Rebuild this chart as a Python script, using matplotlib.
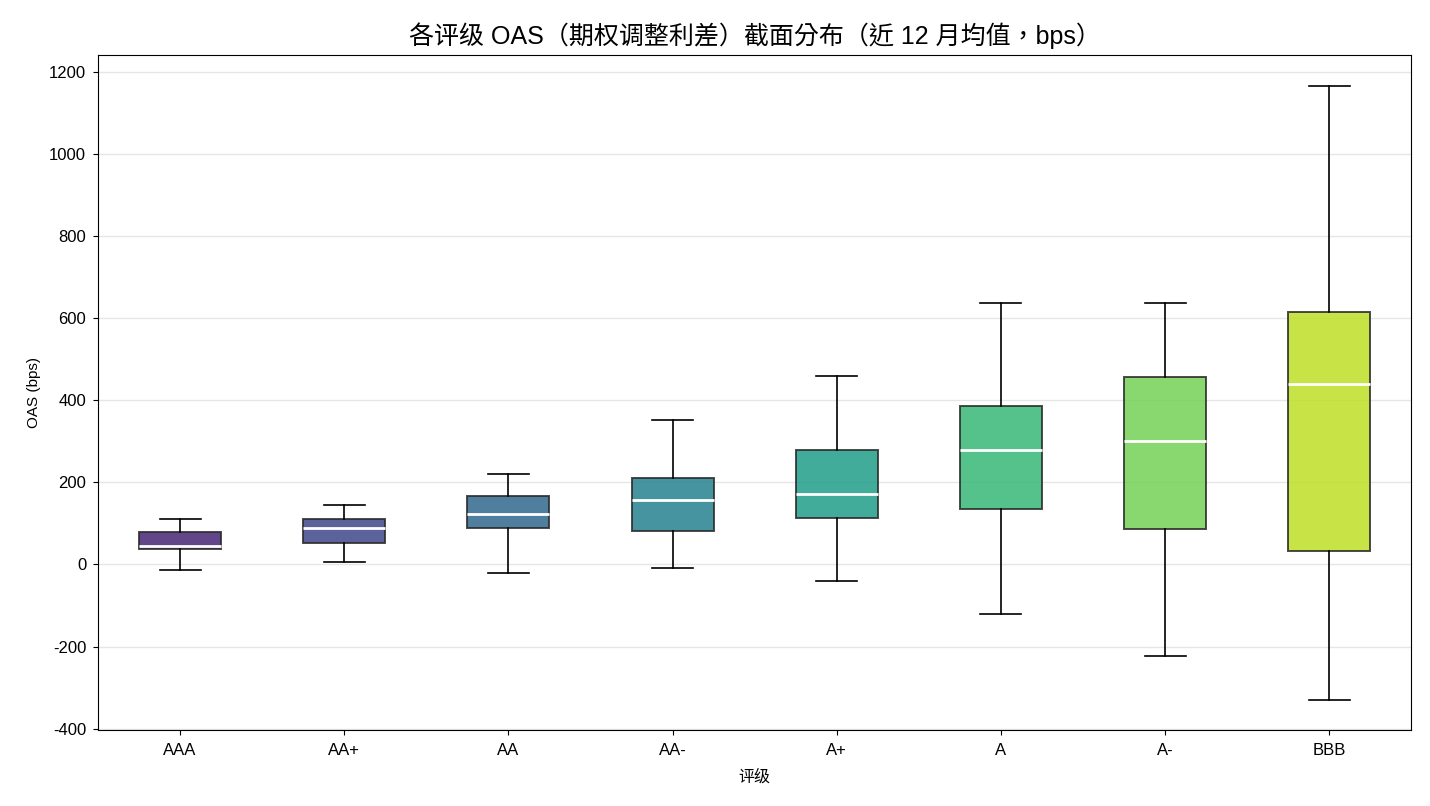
import matplotlib
matplotlib.use("Agg")
import matplotlib.pyplot as plt
import numpy as np

plt.rcParams['font.family'] = ['Liberation Sans', 'Noto Sans CJK TC', 'DejaVu Sans']
plt.rcParams['axes.unicode_minus'] = False

ratings = ["AAA", "AA+", "AA", "AA-", "A+", "A", "A-", "BBB"]
whisker_low = [-13, 6, -20, -9, -41, -120, -223, -329]
q1 = [37, 52, 88, 81, 113, 135, 87, 32]
median = [45, 88, 122, 157, 171, 280, 301, 440]
q3 = [79, 110, 167, 210, 278, 385, 457, 615]
whisker_high = [110, 146, 220, 353, 460, 637, 636, 1167]

stats = []
for i, r in enumerate(ratings):
    stats.append(dict(label=r, whislo=whisker_low[i], q1=q1[i], med=median[i],
                      q3=q3[i], whishi=whisker_high[i], fliers=[]))

fig, ax = plt.subplots(figsize=(14.3, 8.06), dpi=100)
fig.subplots_adjust(left=0.0685, right=0.987, top=0.932, bottom=0.094)

bp = ax.bxp(stats, positions=np.arange(1, len(ratings) + 1), widths=0.5,
            patch_artist=True, showfliers=False,
            boxprops=dict(edgecolor='#2a2a2a', linewidth=1.4),
            whiskerprops=dict(color='black', linewidth=1.2),
            capprops=dict(color='black', linewidth=1.2),
            medianprops=dict(color='white', linewidth=2))

colors = plt.cm.viridis(np.linspace(0.1, 0.9, len(ratings)))
for patch, c in zip(bp['boxes'], colors):
    patch.set_facecolor(c)
    patch.set_alpha(0.85)

ax.set_xlim(0.5, len(ratings) + 0.5)
ax.yaxis.grid(True, color='#e6e6e6', linewidth=1)
ax.set_axisbelow(True)
ax.tick_params(axis='x', labelsize=12, pad=6)
ax.tick_params(axis='y', labelsize=12, pad=5)
ax.set_ylabel("OAS (bps)", fontsize=11, labelpad=6)
ax.set_xlabel("评级", fontsize=11.5, labelpad=8)
ax.set_title("各评级 OAS（期权调整利差）截面分布（近 12 月均值，bps）", fontsize=18, pad=8)

fig.savefig("out.png", dpi=100)
